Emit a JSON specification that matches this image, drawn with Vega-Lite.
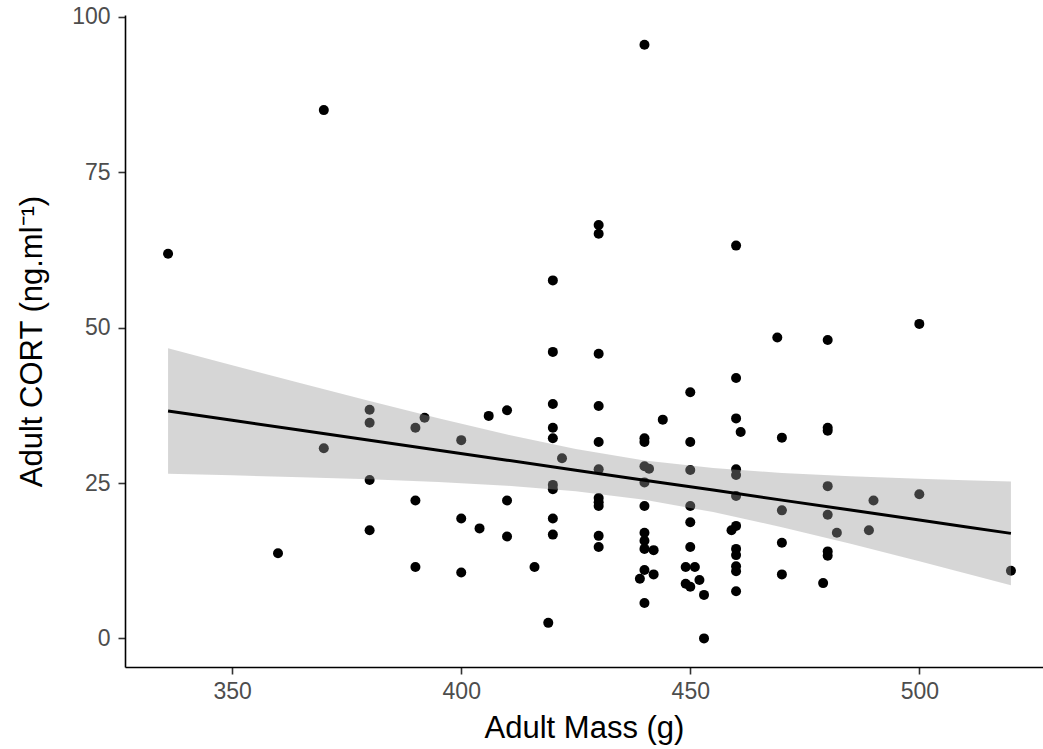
{
  "$schema": "https://vega.github.io/schema/vega-lite/v6.json",
  "width": 918,
  "height": 652,
  "autosize": {"type": "none"},
  "padding": {"left": 125, "top": 15, "right": 0, "bottom": 82},
  "background": "white",
  "config": {
    "view": {"stroke": null},
    "font": "Liberation Sans",
    "axis": {
      "grid": false,
      "domainColor": "#000000",
      "domainWidth": 1.6,
      "tickColor": "#333333",
      "tickWidth": 1.6,
      "tickSize": 7,
      "labelColor": "#4D4D4D",
      "labelFont": "Liberation Sans",
      "labelFontSize": 23,
      "titleFont": "Liberation Sans",
      "titleFontSize": 31,
      "titleFontWeight": "normal",
      "titleColor": "#000000"
    }
  },
  "datasets": {
    "birds": [
      {"mass": 336, "cort": 61.9}, {"mass": 370, "cort": 85.0}, {"mass": 440, "cort": 95.5},
      {"mass": 360, "cort": 13.7}, {"mass": 370, "cort": 30.6}, {"mass": 380, "cort": 36.8},
      {"mass": 380, "cort": 34.7}, {"mass": 380, "cort": 25.5}, {"mass": 380, "cort": 17.4},
      {"mass": 390, "cort": 33.9}, {"mass": 392, "cort": 35.5}, {"mass": 390, "cort": 22.2},
      {"mass": 390, "cort": 11.5}, {"mass": 400, "cort": 31.9}, {"mass": 400, "cort": 19.3},
      {"mass": 400, "cort": 10.6}, {"mass": 404, "cort": 17.7}, {"mass": 406, "cort": 35.8},
      {"mass": 410, "cort": 36.7}, {"mass": 410, "cort": 22.2}, {"mass": 410, "cort": 16.4},
      {"mass": 416, "cort": 11.5}, {"mass": 419, "cort": 2.5}, {"mass": 420, "cort": 57.6},
      {"mass": 420, "cort": 46.1}, {"mass": 420, "cort": 37.7}, {"mass": 420, "cort": 33.9},
      {"mass": 420, "cort": 32.2}, {"mass": 422, "cort": 29.0}, {"mass": 420, "cort": 24.7},
      {"mass": 420, "cort": 24.0}, {"mass": 420, "cort": 19.3}, {"mass": 420, "cort": 16.7},
      {"mass": 430, "cort": 66.5}, {"mass": 430, "cort": 65.1}, {"mass": 430, "cort": 45.8},
      {"mass": 430, "cort": 37.4}, {"mass": 430, "cort": 31.6}, {"mass": 430, "cort": 27.2},
      {"mass": 430, "cort": 22.6}, {"mass": 430, "cort": 21.9}, {"mass": 430, "cort": 21.3},
      {"mass": 430, "cort": 16.5}, {"mass": 430, "cort": 14.7}, {"mass": 440, "cort": 32.2},
      {"mass": 440, "cort": 31.6}, {"mass": 444, "cort": 35.2}, {"mass": 440, "cort": 27.7},
      {"mass": 441, "cort": 27.3}, {"mass": 440, "cort": 25.1}, {"mass": 440, "cort": 21.3},
      {"mass": 440, "cort": 17.0}, {"mass": 440, "cort": 15.7}, {"mass": 440, "cort": 14.4},
      {"mass": 442, "cort": 14.2}, {"mass": 440, "cort": 11.0}, {"mass": 439, "cort": 9.6},
      {"mass": 442, "cort": 10.3}, {"mass": 440, "cort": 5.7}, {"mass": 450, "cort": 39.6},
      {"mass": 450, "cort": 31.6}, {"mass": 450, "cort": 27.1}, {"mass": 450, "cort": 21.3},
      {"mass": 450, "cort": 18.7}, {"mass": 450, "cort": 14.7}, {"mass": 449, "cort": 11.5},
      {"mass": 451, "cort": 11.5}, {"mass": 449, "cort": 8.8}, {"mass": 450, "cort": 8.3},
      {"mass": 452, "cort": 9.4}, {"mass": 453, "cort": 7.0}, {"mass": 453, "cort": 0.0},
      {"mass": 460, "cort": 63.2}, {"mass": 460, "cort": 41.9}, {"mass": 460, "cort": 35.4},
      {"mass": 461, "cort": 33.2}, {"mass": 460, "cort": 27.2}, {"mass": 460, "cort": 26.3},
      {"mass": 460, "cort": 22.9}, {"mass": 459, "cort": 17.4}, {"mass": 460, "cort": 18.1},
      {"mass": 460, "cort": 14.4}, {"mass": 460, "cort": 13.4}, {"mass": 460, "cort": 11.6},
      {"mass": 460, "cort": 10.8}, {"mass": 460, "cort": 7.6}, {"mass": 469, "cort": 48.4},
      {"mass": 470, "cort": 32.3}, {"mass": 470, "cort": 20.6}, {"mass": 470, "cort": 15.4},
      {"mass": 470, "cort": 10.3}, {"mass": 480, "cort": 48.0}, {"mass": 480, "cort": 33.9},
      {"mass": 480, "cort": 33.4}, {"mass": 480, "cort": 24.5}, {"mass": 480, "cort": 19.9},
      {"mass": 482, "cort": 17.0}, {"mass": 480, "cort": 14.0}, {"mass": 480, "cort": 13.3},
      {"mass": 479, "cort": 8.9}, {"mass": 489, "cort": 17.4}, {"mass": 490, "cort": 22.2},
      {"mass": 500, "cort": 50.6}, {"mass": 500, "cort": 23.2}, {"mass": 520, "cort": 10.9}
    ],
    "fit": [
      {"mass": 336, "fit": 36.60, "lo": 26.50, "hi": 46.70},
      {"mass": 350, "fit": 35.10, "lo": 26.24, "hi": 43.96},
      {"mass": 365, "fit": 33.50, "lo": 25.94, "hi": 41.06},
      {"mass": 380, "fit": 31.89, "lo": 25.59, "hi": 38.19},
      {"mass": 395, "fit": 30.28, "lo": 25.15, "hi": 35.41},
      {"mass": 410, "fit": 28.68, "lo": 24.57, "hi": 32.79},
      {"mass": 425, "fit": 27.07, "lo": 23.68, "hi": 30.46},
      {"mass": 440, "fit": 25.46, "lo": 22.29, "hi": 28.63},
      {"mass": 455, "fit": 23.86, "lo": 20.32, "hi": 27.40},
      {"mass": 470, "fit": 22.25, "lo": 17.89, "hi": 26.61},
      {"mass": 485, "fit": 20.65, "lo": 15.22, "hi": 26.08},
      {"mass": 500, "fit": 19.04, "lo": 12.41, "hi": 25.67},
      {"mass": 510, "fit": 17.97, "lo": 10.50, "hi": 25.44},
      {"mass": 520, "fit": 16.90, "lo": 8.57, "hi": 25.23}
    ]
  },
  "layer": [
    {
      "data": {"name": "birds"},
      "mark": {"type": "circle", "color": "#000000", "opacity": 1, "size": 100},
      "encoding": {
        "x": {
          "field": "mass", "type": "quantitative",
          "scale": {"domain": [326.6, 527.0], "nice": false, "zero": false},
          "axis": {"values": [350, 400, 450, 500], "title": "Adult Mass (g)", "labelPadding": 6, "titlePadding": 10}
        },
        "y": {
          "field": "cort", "type": "quantitative",
          "scale": {"domain": [-4.6, 100.3], "nice": false, "zero": false},
          "axis": {"values": [0, 25, 50, 75, 100], "title": "Adult CORT (ng.ml⁻¹)", "labelPadding": 8, "titlePadding": 23}
        }
      }
    },
    {
      "data": {"name": "fit"},
      "mark": {"type": "area", "color": "#999999", "opacity": 0.4},
      "encoding": {
        "x": {"field": "mass", "type": "quantitative"},
        "y": {"field": "lo", "type": "quantitative"},
        "y2": {"field": "hi"}
      }
    },
    {
      "data": {"name": "fit"},
      "mark": {"type": "line", "color": "#000000", "strokeWidth": 3},
      "encoding": {
        "x": {"field": "mass", "type": "quantitative"},
        "y": {"field": "fit", "type": "quantitative"}
      }
    }
  ]
}
